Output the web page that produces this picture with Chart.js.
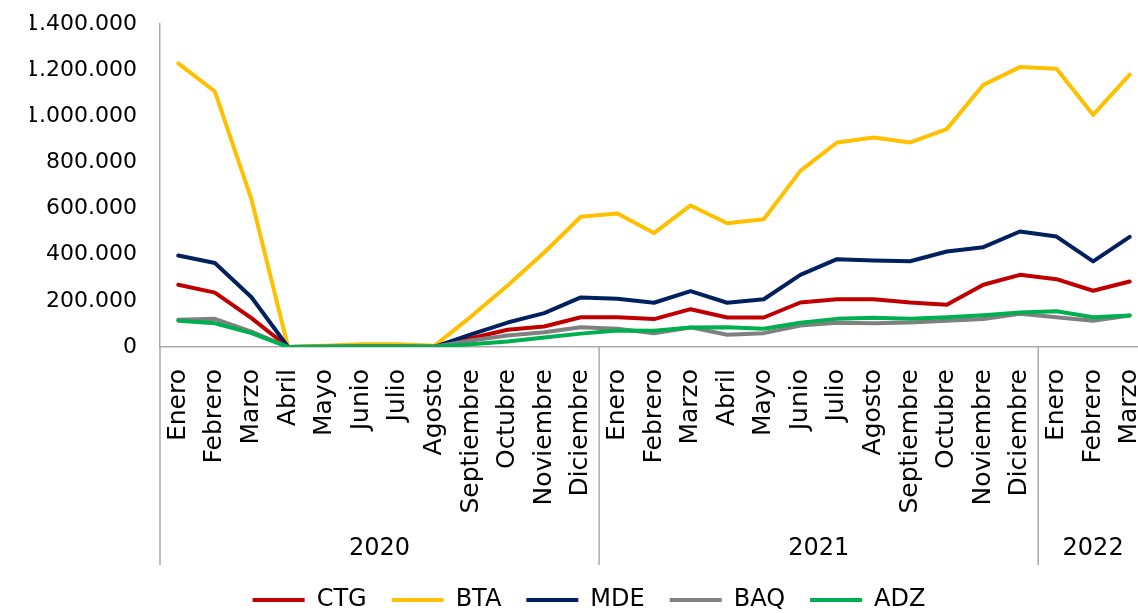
<!DOCTYPE html>
<html>
<head>
<meta charset="utf-8">
<script src="https://cdn.jsdelivr.net/npm/chart.js@4.4.1/dist/chart.umd.min.js"></script>
<style>
  html, body { margin: 0; padding: 0; background: #fff; overflow: hidden; }
  #wrap { position: relative; width: 1150px; height: 625px; margin-top: -12px; }
</style>
</head>
<body>
<div id="wrap"><canvas id="c"></canvas></div>
<script>
// ---- Data ----
const months = [
  'Enero','Febrero','Marzo','Abril','Mayo','Junio','Julio','Agosto','Septiembre','Octubre','Noviembre','Diciembre',
  'Enero','Febrero','Marzo','Abril','Mayo','Junio','Julio','Agosto','Septiembre','Octubre','Noviembre','Diciembre',
  'Enero','Febrero','Marzo'
];
const years = ['2020', '2021', '2022'];
const yearCounts = [12, 12, 3];

const CTG = [270000, 236000, 125000, 0, 2000, 2000, 2000, 2000, 38000, 75000, 89000, 129000,
             129000, 121000, 164000, 128000, 128000, 193000, 207000, 207000, 193000, 183000, 270000, 313000,
             294000, 244000, 284000];
const BTA = [1230000, 1108000, 640000, 0, 5000, 12000, 12000, 5000, 132000, 267000, 410000, 565000,
             579000, 494000, 614000, 537000, 554000, 764000, 887000, 909000, 887000, 945000, 1137000, 1214000,
             1207000, 1007000, 1181000];
const MDE = [397000, 364000, 216000, 0, 1000, 2000, 2000, 1000, 55000, 106000, 147000, 215000,
             209000, 192000, 242000, 192000, 207000, 313000, 381000, 375000, 372000, 414000, 433000, 501000,
             479000, 371000, 478000];
const BAQ = [118000, 122000, 67000, 0, 1000, 1000, 1000, 1000, 28000, 50000, 64000, 86000,
             79000, 60000, 85000, 53000, 60000, 93000, 105000, 103000, 106000, 114000, 121000, 144000,
             129000, 114000, 137000];
const ADZ = [114000, 103000, 60000, 0, 1000, 1000, 1000, 1000, 12000, 24000, 41000, 58000,
             72000, 70000, 85000, 86000, 79000, 105000, 122000, 127000, 122000, 129000, 138000, 150000,
             155000, 129000, 137000];

const yTicks = { min: 0, max: 1400000, step: 200000 };

const seriesNames = ['CTG', 'BTA', 'MDE', 'BAQ', 'ADZ'];
const seriesData = [CTG, BTA, MDE, BAQ, ADZ];
const seriesColors = ['#C00000', '#FFC000', '#002060', '#808080', '#00B050'];

const FONT = 'DejaVu Sans';
const axisGray = '#ABABAB';

function fmt(v) {
  return String(v).replace(/\B(?=(\d{3})+(?!\d))/g, '.');
}

// Year grouping row below the month labels
const yearGroups = {
  id: 'yearGroups',
  afterDraw(chart) {
    const ctx = chart.ctx;
    const x = chart.scales.x;
    const top = chart.chartArea.bottom;
    const sepBottom = 577;
    ctx.save();
    ctx.strokeStyle = axisGray;
    ctx.lineWidth = 1.5;
    ctx.fillStyle = '#000';
    ctx.font = '24px "' + FONT + '"';
    ctx.textAlign = 'center';
    ctx.textBaseline = 'middle';
    let start = 0;
    for (let g = 0; g < years.length; g++) {
      const left = x.getPixelForValue(start - 0.5);
      const right = x.getPixelForValue(start + yearCounts[g] - 0.5);
      ctx.beginPath();
      ctx.moveTo(left, top);
      ctx.lineTo(left, sepBottom);
      ctx.stroke();
      ctx.fillText(years[g], (left + right) / 2, 561);
      start += yearCounts[g];
    }
    const rightEnd = x.getPixelForValue(start - 0.5);
    ctx.beginPath();
    ctx.moveTo(rightEnd, top);
    ctx.lineTo(rightEnd, sepBottom);
    ctx.stroke();
    ctx.restore();
  }
};

const datasets = seriesNames.map((name, i) => ({
  label: name,
  data: seriesData[i],
  borderColor: seriesColors[i],
  backgroundColor: seriesColors[i],
  borderWidth: 4,
  pointRadius: 0,
  pointHoverRadius: 0,
  tension: 0,
  borderJoinStyle: 'round',
  borderCapStyle: 'round',
  order: seriesNames.length - i
}));

new Chart(document.getElementById('c'), {
  type: 'line',
  data: { labels: months, datasets },
  plugins: [yearGroups],
  options: {
    responsive: true,
    maintainAspectRatio: false,
    animation: false,
    layout: { padding: { left: 30, right: 2, top: 10, bottom: -9 } },
    plugins: {
      tooltip: { enabled: false },
      legend: {
        position: 'bottom',
        labels: {
          font: { family: FONT, size: 24 },
          color: '#000',
          boxWidth: 52,
          boxHeight: 4,
          padding: 25,
          sort: (a, b) => a.datasetIndex - b.datasetIndex,
          generateLabels: (chart) =>
            Chart.defaults.plugins.legend.labels.generateLabels(chart).map(l => ({
              ...l, lineWidth: 0, fillStyle: l.strokeStyle
            }))
        }
      }
    },
    scales: {
      x: {
        type: 'category',
        offset: true,
        grid: { display: false, drawTicks: false },
        border: { display: true, color: axisGray, width: 1.5 },
        ticks: {
          autoSkip: false,
          maxRotation: 90,
          minRotation: 90,
          padding: 22,
          color: '#000',
          font: { family: FONT, size: 25 }
        },
        afterFit: (s) => { s.height = 216; s.paddingLeft = 0; s.paddingRight = 0; }
      },
      y: {
        min: yTicks.min,
        max: yTicks.max,
        grid: { display: false, drawTicks: false },
        border: { display: true, color: axisGray, width: 1.5 },
        ticks: {
          stepSize: yTicks.step,
          padding: 23,
          color: '#000',
          font: { family: FONT, size: 22 },
          callback: (v) => fmt(v)
        },
        afterFit: (s) => { s.width = 130; }
      }
    }
  }
});
</script>
</body>
</html>
